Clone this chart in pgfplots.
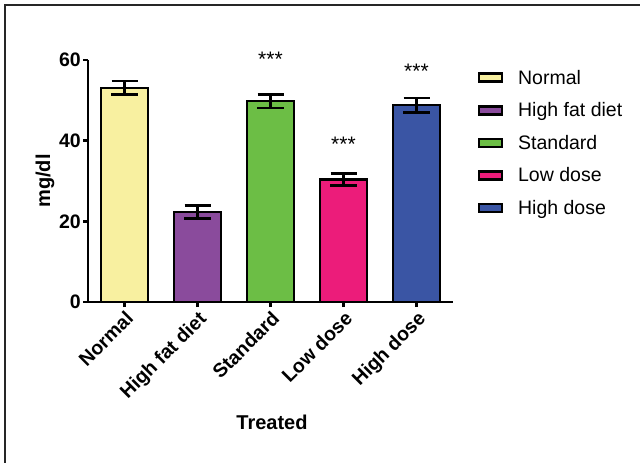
\documentclass[border=0pt]{standalone}
\usepackage{pgfplots}
\pgfplotsset{compat=1.18}
\usepackage{fontspec}
\setmainfont{Liberation Sans}

\definecolor{cNormal}{HTML}{F8F0A0}
\definecolor{cHFD}{HTML}{8A4B9C}
\definecolor{cStd}{HTML}{6CBE45}
\definecolor{cLow}{HTML}{EC1C7A}
\definecolor{cHigh}{HTML}{3A55A4}

\newcommand{\tickfont}{\fontsize{19.5bp}{21bp}\selectfont\bfseries}
\newcommand{\labfont}{\fontsize{20bp}{22bp}\selectfont\bfseries}

\pgfplotsset{
  barstyle/.style={
    fill=#1, draw=black, line width=2.5bp,
    error bars/.cd, y dir=both, y explicit,
    error bar style={line width=2.5bp, black},
    error mark options={rotate=90, mark size=13bp, line width=2.5bp, black}
  }
}

\begin{document}
\begin{tikzpicture}
\useasboundingbox (0,0) rectangle (640bp,463bp);
\draw[line width=1.5bp, black!85] (5bp,0) -- (5bp,458bp) -- (640bp,458bp);

\begin{axis}[
  at={(88bp,161bp)}, anchor=south west,
  scale only axis, width=365bp, height=242bp,
  xmin=-0.5, xmax=4.5, ymin=0, ymax=60,
  ybar, bar width=47bp, bar shift=0pt,
  clip=false,
  axis x line*=bottom, axis y line*=left,
  axis line style={line width=2.5bp, -},
  tick style={line width=2.5bp, black},
  tick align=outside, major tick length=5bp,
  xtick={0,1,2,3,4},
  xticklabels={Normal, High fat diet, Standard, Low dose, High dose},
  ytick={0,20,40,60},
  /pgf/number format/assume math mode=true,
  x tick label style={rotate=45, anchor=north east, font=\tickfont, inner sep=2bp},
  y tick label style={font=\tickfont, inner sep=2bp},
  xlabel={Treated}, ylabel={mg/dl},
  xlabel style={at={(axis description cs:0.504,-0.496)}, anchor=center, font=\labfont},
  ylabel style={at={(axis description cs:-0.118,0.5)}, anchor=center, font=\labfont},
  legend style={at={(axis description cs:1.067,0.96)}, anchor=north west,
    draw=none, fill=none, inner sep=0pt, row sep=17bp,
    font=\fontsize{19.5bp}{21bp}\selectfont,
    nodes={inner xsep=8bp, inner ysep=0pt},
    /tikz/every odd column/.append style={column sep=7bp}},
  legend cell align=left,
  legend image code/.code={\draw[#1, line width=2.5bp] (0bp,-4bp) rectangle (23bp,4bp);},
]
\addplot[barstyle=cNormal] coordinates {(0,53.1) +- (0,1.7)};
\addplot[barstyle=cHFD] coordinates {(1,22.3) +- (0,1.6)};
\addplot[barstyle=cStd] coordinates {(2,49.8) +- (0,1.7)};
\addplot[barstyle=cLow] coordinates {(3,30.4) +- (0,1.5)};
\addplot[barstyle=cHigh] coordinates {(4,48.8) +- (0,1.8)};
\legend{Normal, High fat diet, Standard, Low dose, High dose}

\node[anchor=base, font=\fontsize{21bp}{22bp}\selectfont] at (axis cs:2,58.3) {***};
\node[anchor=base, font=\fontsize{21bp}{22bp}\selectfont] at (axis cs:3,37.3) {***};
\node[anchor=base, font=\fontsize{21bp}{22bp}\selectfont] at (axis cs:4,55.4) {***};
\end{axis}
\end{tikzpicture}
\end{document}
